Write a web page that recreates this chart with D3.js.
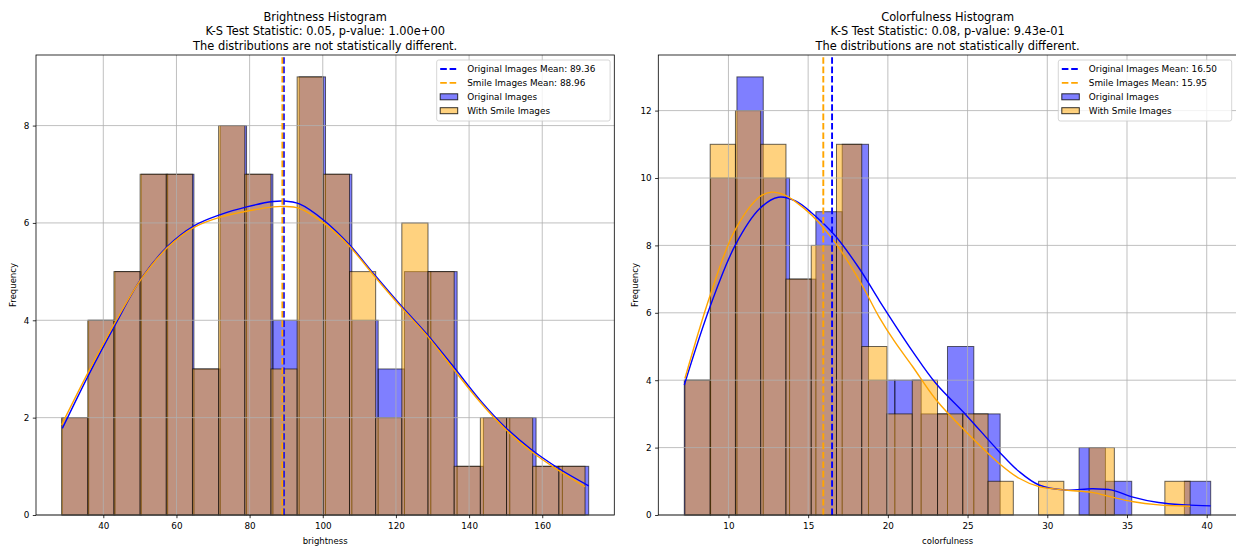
<!DOCTYPE html>
<html>
<head>
<meta charset="utf-8">
<script src="https://cdn.jsdelivr.net/npm/d3@7"></script>
<style>
  html, body { margin: 0; padding: 0; background: #fff; }
  svg { display: block; font-family: "DejaVu Sans", sans-serif; }
</style>
</head>
<body>
<svg id="chart" width="1236" height="548"></svg>
<script>
// ---------------- DATA ----------------
// Brightness histogram (20 bins per series)
const brightOrigCounts  = [2,4,5,7,7,3,8,7,4,9,7,4,3,5,5,1,2,2,1,1];
const brightSmileCounts = [2,4,5,7,7,3,8,7,3,9,7,5,2,6,5,1,2,2,1,1];
const brightOrigRange   = [28.8, 172.7];
const brightSmileRange  = [28.6, 171.7];
const brightMeans       = [89.36, 88.96];
const brightKdeOrigX  = [28.8,36,43.2,50.4,57.6,64.8,72,79.2,86.4,89.3,93.6,100.2,107.3,114.2,121.3,128.3,135.7,143,149.8,157.1,164.4,172.7];
const brightKdeOrigY  = [1.78,2.88,3.9,4.86,5.52,5.94,6.17,6.33,6.44,6.45,6.39,6.06,5.55,4.93,4.31,3.73,3.05,2.36,1.81,1.34,0.96,0.6];
const brightKdeSmileX = [28.6,36,43.2,50.4,57.6,64.8,72,79.2,86.4,89.3,93.6,100.2,107.3,114.2,121.3,128.3,135.7,143,149.8,157.1,164.4,171.7];
const brightKdeSmileY = [1.85,2.95,3.95,4.85,5.5,5.91,6.12,6.24,6.33,6.34,6.3,6.0,5.52,4.9,4.28,3.7,3.0,2.32,1.77,1.3,0.92,0.58];
const brightXTicks = [40,60,80,100,120,140,160];
const brightYTicks = [0,2,4,6,8];

// Colorfulness histogram (20 bins per series)
const colorOrigCounts  = [4,10,13,10,7,9,11,4,4,3,5,3,0,0,0,2,1,0,0,1];
const colorSmileCounts = [4,11,12,11,7,8,11,5,3,4,3,3,1,0,1,0,2,0,0,1];
const colorOrigRange   = [7.23, 40.25];
const colorSmileRange  = [7.27, 38.96];
const colorMeans       = [16.50, 15.95];
const colorKdeOrigX  = [7.23,8.86,10.42,11.98,13.13,14.2,15.21,16.67,18.23,19.48,21.56,23.02,24.9,26.98,28.23,29.48,31.15,32.81,34.06,35.31,36.98,38.65,40.25];
const colorKdeOrigY  = [3.86,6.2,8.0,9.1,9.43,9.32,8.97,8.3,7.3,6.35,4.85,3.9,2.97,1.88,1.29,0.89,0.74,0.78,0.74,0.54,0.37,0.3,0.27];
const colorKdeSmileX = [7.27,8.86,10.42,11.98,12.71,13.5,14.2,15.21,16.67,18.23,19.48,20.42,21.56,23.02,24.9,26.98,28.23,29.48,31.15,32.81,34.06,35.31,36.98,38.96];
const colorKdeSmileY = [4.05,6.53,8.46,9.45,9.58,9.5,9.3,8.9,8.1,6.95,5.85,5.15,4.4,3.42,2.47,1.53,1.09,0.84,0.74,0.67,0.53,0.4,0.3,0.26];
const colorXTicks = [10,15,20,25,30,35,40];
const colorYTicks = [0,2,4,6,8,10,12];

const seriesLabels = ["Original Images", "With Smile Images"];
const meanLabels   = ["Original Images Mean: ", "Smile Images Mean: "];

// ---------------- DRAW ----------------
const svg = d3.select("#chart");
const BLUE = "blue", ORANGE = "orange";

function panel(cfg) {
  const g = svg.append("g");
  const x = d3.scaleLinear().domain(cfg.xDomain).range([cfg.left, cfg.right]);
  const y = d3.scaleLinear().domain(cfg.yDomain).range([515, 55]);

  // bars
  function bars(counts, range, color) {
    const n = counts.length;
    const w = (range[1] - range[0]) / n;
    const data = counts.map((c, i) => ({x0: range[0] + i * w, x1: range[0] + (i + 1) * w, c}));
    g.append("g").selectAll("rect").data(data).join("rect")
      .attr("x", d => x(d.x0))
      .attr("y", d => y(d.c))
      .attr("width", d => x(d.x1) - x(d.x0))
      .attr("height", d => y(0) - y(d.c))
      .attr("fill", color).attr("fill-opacity", 0.5)
      .attr("stroke", "#000").attr("stroke-opacity", 0.6).attr("stroke-width", 1);
  }
  bars(cfg.origCounts, cfg.origRange, BLUE);
  bars(cfg.smileCounts, cfg.smileRange, ORANGE);

  // grid (above bars, below lines)
  const grid = g.append("g").attr("stroke", "#b0b0b0").attr("stroke-width", 0.8);
  grid.selectAll(".gx").data(cfg.xTicks).join("line")
    .attr("x1", d => x(d)).attr("x2", d => x(d)).attr("y1", 55).attr("y2", 515);
  grid.selectAll(".gy").data(cfg.yTicks).join("line")
    .attr("x1", cfg.left).attr("x2", cfg.right).attr("y1", d => y(d)).attr("y2", d => y(d));

  // KDE lines
  const line = d3.line().x(d => x(d[0])).y(d => y(d[1])).curve(d3.curveCatmullRom.alpha(0.5));
  g.append("path").datum(d3.zip(cfg.kdeOrigX, cfg.kdeOrigY)).attr("d", line)
    .attr("fill", "none").attr("stroke", BLUE).attr("stroke-width", 1.4);
  g.append("path").datum(d3.zip(cfg.kdeSmileX, cfg.kdeSmileY)).attr("d", line)
    .attr("fill", "none").attr("stroke", ORANGE).attr("stroke-width", 1.4);

  // mean lines
  [[cfg.means[0], BLUE], [cfg.means[1], ORANGE]].forEach(([m, c]) => {
    g.append("line").attr("x1", x(m)).attr("x2", x(m)).attr("y1", 515).attr("y2", 55)
      .attr("stroke", c).attr("stroke-width", 1.9).attr("stroke-dasharray", "6.6,2.8");
  });

  // axes
  const xa = g.append("g").attr("transform", "translate(0,515)")
    .call(d3.axisBottom(x).tickValues(cfg.xTicks).tickSize(3.2).tickPadding(4.2).tickFormat(d3.format("d")));
  const ya = g.append("g").attr("transform", `translate(${cfg.left},0)`)
    .call(d3.axisLeft(y).tickValues(cfg.yTicks).tickSize(3.2).tickPadding(3.5).tickFormat(d3.format("d")));
  [xa, ya].forEach(a => {
    a.select(".domain").remove();
    a.selectAll("line").attr("stroke", "#000").attr("stroke-width", 0.8);
    a.selectAll("text").attr("font-size", "8.8px").attr("fill", "#000").attr("font-family", "DejaVu Sans");
  });

  // spines
  g.append("rect").attr("x", cfg.left).attr("y", 55).attr("width", cfg.right - cfg.left).attr("height", 460)
    .attr("fill", "none").attr("stroke", "#000").attr("stroke-width", 0.8);

  // axis labels
  const cx = (cfg.left + cfg.right) / 2;
  g.append("text").attr("x", cx).attr("y", 543.5).attr("text-anchor", "middle")
    .attr("font-size", "8.5px").text(cfg.xLabel);
  g.append("text").attr("transform", `translate(${cfg.left - 20.5},285) rotate(-90)`)
    .attr("text-anchor", "middle").attr("font-size", "8.5px").text("Frequency");

  // title
  cfg.title.forEach((t, i) => {
    g.append("text").attr("x", cx).attr("y", 21 + i * 14.3).attr("text-anchor", "middle")
      .attr("font-size", "11.4px").attr("fill", "#000").text(t);
  });

  // legend
  const lw = 173.4, lx = cfg.legendRight - lw, ly = 60;
  const lg = g.append("g");
  lg.append("rect").attr("x", lx).attr("y", ly).attr("width", lw).attr("height", 61)
    .attr("rx", 2).attr("fill", "#fff").attr("fill-opacity", 0.8)
    .attr("stroke", "#cccccc").attr("stroke-width", 0.8);
  const rows = [
    {type: "line", color: BLUE,   label: meanLabels[0] + cfg.means[0].toFixed(2)},
    {type: "line", color: ORANGE, label: meanLabels[1] + cfg.means[1].toFixed(2)},
    {type: "patch", color: BLUE,   label: seriesLabels[0]},
    {type: "patch", color: ORANGE, label: seriesLabels[1]}
  ];
  rows.forEach((r, i) => {
    const cy = 69 + i * 13.9;
    if (r.type === "line") {
      lg.append("line").attr("x1", lx + 3.5).attr("x2", lx + 21).attr("y1", cy).attr("y2", cy)
        .attr("stroke", r.color).attr("stroke-width", 1.9).attr("stroke-dasharray", "6.6,2.8");
    } else {
      lg.append("rect").attr("x", lx + 3.5).attr("y", cy - 3).attr("width", 17.5).attr("height", 6)
        .attr("fill", r.color).attr("fill-opacity", 0.5)
        .attr("stroke", "#000").attr("stroke-opacity", 0.8).attr("stroke-width", 1);
    }
    lg.append("text").attr("x", lx + 30.5).attr("y", cy).attr("dy", "0.35em")
      .attr("font-size", "8.9px").attr("fill", "#000").text(r.label);
  });
}

panel({
  left: 36, right: 614.3, xDomain: [21.6, 179.7], yDomain: [0, 9.45],
  origCounts: brightOrigCounts, smileCounts: brightSmileCounts,
  origRange: brightOrigRange, smileRange: brightSmileRange,
  kdeOrigX: brightKdeOrigX, kdeOrigY: brightKdeOrigY,
  kdeSmileX: brightKdeSmileX, kdeSmileY: brightKdeSmileY,
  means: brightMeans, xTicks: brightXTicks, yTicks: brightYTicks,
  xLabel: "brightness", legendRight: 610.1,
  title: ["Brightness Histogram", "K-S Test Statistic: 0.05, p-value: 1.00e+00", "The distributions are not statistically different."]
});

panel({
  left: 658.3, right: 1237, xDomain: [5.6, 41.9], yDomain: [0, 13.65],
  origCounts: colorOrigCounts, smileCounts: colorSmileCounts,
  origRange: colorOrigRange, smileRange: colorSmileRange,
  kdeOrigX: colorKdeOrigX, kdeOrigY: colorKdeOrigY,
  kdeSmileX: colorKdeSmileX, kdeSmileY: colorKdeSmileY,
  means: colorMeans, xTicks: colorXTicks, yTicks: colorYTicks,
  xLabel: "colorfulness", legendRight: 1231.7,
  title: ["Colorfulness Histogram", "K-S Test Statistic: 0.08, p-value: 9.43e-01", "The distributions are not statistically different."]
});
</script>
</body>
</html>
